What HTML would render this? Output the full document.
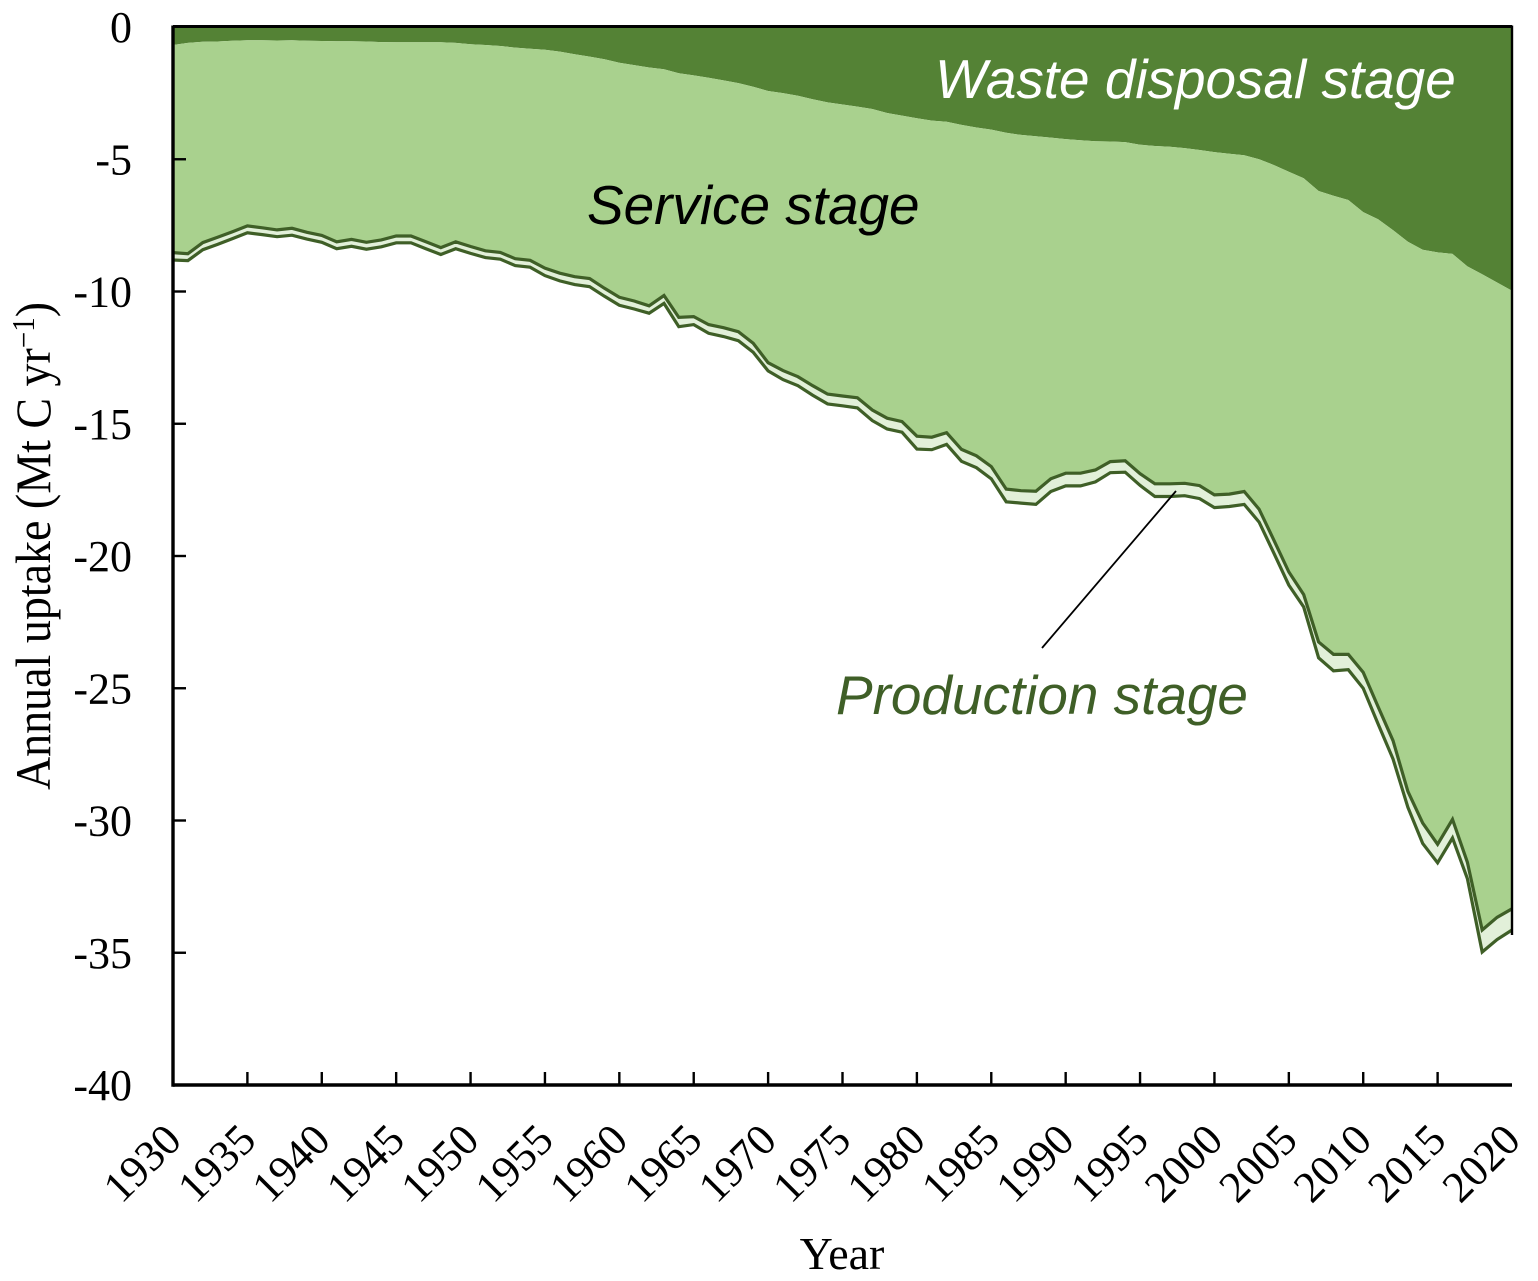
<!DOCTYPE html>
<html lang="en">
<head>
<meta charset="utf-8">
<title>Annual uptake by stage</title>
<style>
html,body{margin:0;padding:0;background:#fff;}
svg{display:block;}
.tick-label{font-family:"Liberation Serif",serif;font-size:44px;fill:#000;}
.axis-title{font-family:"Liberation Serif",serif;font-size:46px;fill:#000;}
.stage-label{font-family:"Liberation Sans",sans-serif;font-style:italic;font-size:54.9px;}
</style>
</head>
<body>
<svg id="chart" xmlns="http://www.w3.org/2000/svg" width="1538" height="1281" viewBox="0 0 1538 1281">
  <rect x="0" y="0" width="1538" height="1281" fill="#fff"/>
  <g id="areas"></g>
  <g id="axes"></g>
  <line x1="1176" y1="491" x2="1042" y2="648" stroke="#000" stroke-width="1.8"/>
  <text class="stage-label" x="935" y="98" fill="#fff">Waste disposal stage</text>
  <text class="stage-label" x="587" y="224" fill="#000">Service stage</text>
  <text class="stage-label" x="836" y="714" fill="#3f5f27">Production stage</text>
  <text class="axis-title" x="842" y="1269" text-anchor="middle">Year</text>
  <text class="axis-title" transform="translate(50,546) rotate(-90) scale(1,1.08)" text-anchor="middle">Annual uptake (Mt C yr<tspan font-size="29" dy="-15">−1</tspan><tspan dy="15">)</tspan></text>
</svg>
<script>
const firstYear = 1930;
const xTickLabels = [1930,1935,1940,1945,1950,1955,1960,1965,1970,1975,1980,1985,1990,1995,2000,2005,2010,2015,2020];
const yTickLabels = [0,-5,-10,-15,-20,-25,-30,-35,-40];

// Running totals of annual uptake, one value per year from 1930 to 2020
const wasteBoundary = [
-0.68,-0.60,-0.56,-0.55,-0.52,-0.50,-0.50,-0.51,-0.50,-0.52,
-0.53,-0.54,-0.54,-0.55,-0.57,-0.58,-0.58,-0.58,-0.58,-0.60,
-0.65,-0.68,-0.72,-0.78,-0.82,-0.86,-0.93,-1.03,-1.12,-1.22,
-1.35,-1.44,-1.53,-1.60,-1.75,-1.83,-1.92,-2.02,-2.12,-2.26,
-2.42,-2.50,-2.60,-2.73,-2.85,-2.93,-3.01,-3.10,-3.25,-3.35,
-3.45,-3.54,-3.58,-3.70,-3.80,-3.88,-4.00,-4.08,-4.13,-4.18,
-4.24,-4.28,-4.32,-4.33,-4.35,-4.45,-4.50,-4.53,-4.58,-4.65,
-4.73,-4.79,-4.85,-5.00,-5.22,-5.47,-5.72,-6.20,-6.38,-6.54,
-7.00,-7.27,-7.68,-8.12,-8.42,-8.52,-8.58,-9.05,-9.35,-9.66,
-9.97];
const serviceBoundary = [
-8.53,-8.57,-8.15,-7.95,-7.74,-7.52,-7.59,-7.67,-7.61,-7.76,
-7.88,-8.12,-8.03,-8.14,-8.05,-7.90,-7.90,-8.12,-8.34,-8.12,
-8.30,-8.46,-8.52,-8.76,-8.82,-9.12,-9.31,-9.44,-9.51,-9.88,
-10.22,-10.36,-10.54,-10.15,-10.98,-10.95,-11.25,-11.37,-11.52,-11.96,
-12.69,-12.99,-13.22,-13.56,-13.88,-13.95,-14.02,-14.48,-14.79,-14.92,
-15.47,-15.51,-15.34,-15.97,-16.21,-16.62,-17.47,-17.53,-17.55,-17.08,
-16.87,-16.87,-16.75,-16.43,-16.40,-16.89,-17.27,-17.27,-17.25,-17.34,
-17.69,-17.66,-17.56,-18.23,-19.41,-20.60,-21.46,-23.25,-23.72,-23.72,
-24.40,-25.70,-26.98,-28.90,-30.10,-30.90,-29.96,-31.58,-34.14,-33.66,
-33.34];
const productionBoundary = [
-8.81,-8.83,-8.42,-8.22,-8.00,-7.78,-7.85,-7.93,-7.87,-8.02,
-8.14,-8.38,-8.29,-8.40,-8.31,-8.16,-8.16,-8.38,-8.60,-8.38,
-8.56,-8.72,-8.78,-9.02,-9.08,-9.40,-9.60,-9.74,-9.82,-10.18,
-10.52,-10.66,-10.82,-10.45,-11.33,-11.25,-11.58,-11.70,-11.86,-12.30,
-13.00,-13.33,-13.56,-13.92,-14.25,-14.32,-14.40,-14.88,-15.20,-15.32,
-15.96,-15.98,-15.78,-16.42,-16.66,-17.08,-17.95,-18.00,-18.05,-17.56,
-17.35,-17.35,-17.20,-16.85,-16.83,-17.33,-17.75,-17.75,-17.72,-17.83,
-18.17,-18.13,-18.05,-18.72,-19.90,-21.10,-21.93,-23.85,-24.34,-24.30,
-25.00,-26.35,-27.67,-29.50,-30.87,-31.60,-30.66,-32.20,-34.97,-34.50,
-34.14];

const plotLeft = 173, plotRight = 1512, plotTop = 27, plotBottom = 1085;
const xDomain = [1930, 2020], yDomain = [0, -40];
function xScale(year){ return plotLeft + (year - xDomain[0]) / (xDomain[1] - xDomain[0]) * (plotRight - plotLeft); }
function yScale(v){ return plotTop + (v - yDomain[0]) / (yDomain[1] - yDomain[0]) * (plotBottom - plotTop); }

const NS = 'http://www.w3.org/2000/svg';
const areas = document.getElementById('areas');
const axes = document.getElementById('axes');

function linePoints(arr){
  return arr.map((v,i) => xScale(firstYear + i).toFixed(1) + ',' + yScale(v).toFixed(1));
}
function bandPath(upper, lower){
  const top = linePoints(upper);
  const bottom = linePoints(lower).reverse();
  return 'M' + top.join('L') + 'L' + bottom.join('L') + 'Z';
}
const zeroLine = wasteBoundary.map(() => 0);

const wasteArea = document.createElementNS(NS, 'path');
wasteArea.setAttribute('d', bandPath(zeroLine, wasteBoundary));
wasteArea.setAttribute('fill', '#548235');


areas.appendChild(wasteArea);

const serviceArea = document.createElementNS(NS, 'path');
serviceArea.setAttribute('d', bandPath(wasteBoundary, serviceBoundary));
serviceArea.setAttribute('fill', '#a9d18e');


areas.appendChild(serviceArea);

const productionArea = document.createElementNS(NS, 'path');
productionArea.setAttribute('d', bandPath(serviceBoundary, productionBoundary));
productionArea.setAttribute('fill', '#e2f0d9');


areas.appendChild(productionArea);

const productionTopLine = document.createElementNS(NS, 'polyline');
productionTopLine.setAttribute('points', linePoints(serviceBoundary).join(' '));
productionTopLine.setAttribute('fill', 'none');
productionTopLine.setAttribute('stroke', '#3f5f27');
productionTopLine.setAttribute('stroke-width', '3.2');


areas.appendChild(productionTopLine);

const productionBottomLine = document.createElementNS(NS, 'polyline');
productionBottomLine.setAttribute('points', linePoints(productionBoundary).join(' '));
productionBottomLine.setAttribute('fill', 'none');
productionBottomLine.setAttribute('stroke', '#3f5f27');
productionBottomLine.setAttribute('stroke-width', '3.2');


areas.appendChild(productionBottomLine);

function axisLine(x1,y1,x2,y2,w){
  const l = document.createElementNS(NS, 'line');
  l.setAttribute('x1', x1);
  l.setAttribute('y1', y1);
  l.setAttribute('x2', x2);
  l.setAttribute('y2', y2);
  l.setAttribute('stroke', '#000');
  l.setAttribute('stroke-width', w);
  axes.appendChild(l);
  return l;
}

const leftAxis = axisLine(plotLeft, plotTop - 1.5, plotLeft, plotBottom + 1.7, 3.4);


const bottomAxis = axisLine(plotLeft, plotBottom, plotRight, plotBottom, 3.4);


const topBorder = axisLine(plotLeft, plotTop - 0.5, plotRight, plotTop - 0.5, 3);


const rightBorder = axisLine(plotRight, plotTop - 1.5, plotRight, plotBottom - 150, 2.4);



yTickLabels.forEach(v => {
  const y = yScale(v);
  if (v !== 0 && v !== -40) {
    const t = axisLine(plotLeft, y, plotLeft + 13, y, 2.4);
    
    
  }
  const label = document.createElementNS(NS, 'text');
  label.setAttribute('class', 'tick-label');
  label.setAttribute('x', 132);
  label.setAttribute('y', y + 15);
  label.setAttribute('text-anchor', 'end');
  label.textContent = v;
  
  
  axes.appendChild(label);
});

xTickLabels.forEach(year => {
  const x = xScale(year);
  if (year !== 1930 && year !== 2020) {
    const t = axisLine(x, plotBottom, x, plotBottom - 13, 2.4);
    
    
  }
  const label = document.createElementNS(NS, 'text');
  label.setAttribute('class', 'tick-label');
  label.setAttribute('text-anchor', 'middle');
  label.setAttribute('transform', 'translate(' + (x - 20.5).toFixed(1) + ',1173.5) rotate(-45)');
  label.textContent = year;
  
  
  axes.appendChild(label);
});
</script>
</body>
</html>
